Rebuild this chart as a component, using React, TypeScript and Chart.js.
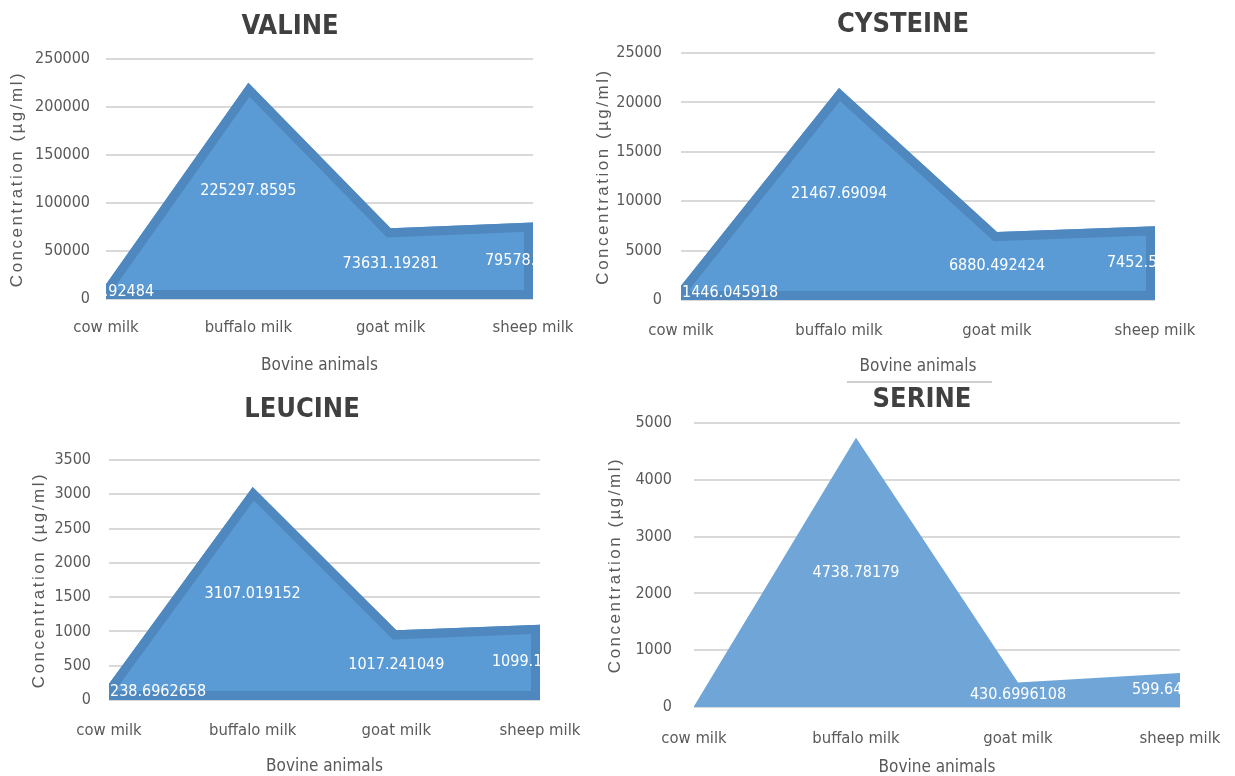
import React, { useEffect, useRef } from "react";
import { Chart, registerables } from "chart.js";

Chart.register(...registerables);

// ---------- data ----------
const categories = ["cow milk", "buffalo milk", "goat milk", "sheep milk"];

const valineValues = [15437.92484, 225297.8595, 73631.19281, 79578.24513];
const cysteineValues = [1446.045918, 21467.69094, 6880.492424, 7452.571846];
const leucineValues = [238.6962658, 3107.019152, 1017.241049, 1099.148261];
const serineValues = [15.2847316, 4738.78179, 430.6996108, 599.6473915];

const valineTicks = [0, 50000, 100000, 150000, 200000, 250000];
const cysteineTicks = [0, 5000, 10000, 15000, 20000, 25000];
const leucineTicks = [0, 500, 1000, 1500, 2000, 2500, 3000, 3500];
const serineTicks = [0, 1000, 2000, 3000, 4000, 5000];

const valineLabelShown = [true, true, true, true];
const cysteineLabelShown = [true, true, true, true];
const leucineLabelShown = [true, true, true, true];
const serineLabelShown = [false, true, true, true];

const xAxisTitle = "Bovine animals";
const yAxisTitle = "Concentration (µg/ml)";

// ---------- styling ----------
const NARROW = '"Liberation Sans Narrow", "Arial Narrow", "DejaVu Sans Condensed", sans-serif';
const REG = '"Liberation Sans", Arial, sans-serif';
const TEXT = "#595959";

type Panel = {
  title: string;
  values: number[];
  ticks: number[];
  shown: boolean[];
  cx: number; cy: number; W: number; H: number;
  l: number; t: number; r: number; b: number;
  titleX: number; titleY: number;
  yTitleX: number;
  xLabelY: number; xTitleY: number;
  yTickPad: number;
  fill: string;
  band: string | null;
  firstLeft: boolean;
};

const panels: Panel[] = [
  {
    title: "VALINE", values: valineValues, ticks: valineTicks, shown: valineLabelShown,
    cx: 0, cy: 0, W: 590, H: 388,
    l: 106, t: 59, r: 533, b: 299,
    titleX: 290, titleY: 27, yTitleX: 17, xLabelY: 328, xTitleY: 366, yTickPad: 16,
    fill: "#5b9bd5", band: "#4f87bf", firstLeft: false,
  },
  {
    title: "CYSTEINE", values: cysteineValues, ticks: cysteineTicks, shown: cysteineLabelShown,
    cx: 590, cy: 0, W: 645, H: 388,
    l: 681, t: 53, r: 1155, b: 300,
    titleX: 903, titleY: 25, yTitleX: 603, xLabelY: 331, xTitleY: 367, yTickPad: 19,
    fill: "#5b9bd5", band: "#4f87bf", firstLeft: true,
  },
  {
    title: "LEUCINE", values: leucineValues, ticks: leucineTicks, shown: leucineLabelShown,
    cx: 0, cy: 380, W: 590, H: 396,
    l: 109, t: 460, r: 540, b: 700,
    titleX: 302, titleY: 410, yTitleX: 39, xLabelY: 731, xTitleY: 767, yTickPad: 18,
    fill: "#5b9bd5", band: "#4f87bf", firstLeft: true,
  },
  {
    title: "SERINE", values: serineValues, ticks: serineTicks, shown: serineLabelShown,
    cx: 590, cy: 380, W: 645, H: 396,
    l: 694, t: 423, r: 1180, b: 707,
    titleX: 922, titleY: 400, yTitleX: 615, xLabelY: 739, xTitleY: 768, yTickPad: 22,
    fill: "#6fa5d7", band: null, firstLeft: true,
  },
];

const decorPlugin = {
  id: "decor",
  afterDatasetsDraw(chart: any, _args: any, opts: any) {
    const { ctx, chartArea } = chart;
    const meta = chart.getDatasetMeta(0);
    const pts = meta.data;
    const yS = chart.scales.y;
    const base = yS.getPixelForValue(0);
    if (opts.band) {
      ctx.save();
      ctx.beginPath();
      ctx.moveTo(pts[0].x, base);
      for (const pt of pts) ctx.lineTo(pt.x, pt.y);
      ctx.lineTo(pts[pts.length - 1].x, base);
      ctx.closePath();
      ctx.clip();
      ctx.lineWidth = 18;
      ctx.strokeStyle = opts.band;
      ctx.lineJoin = "miter";
      ctx.stroke();
      ctx.restore();
    }
    ctx.save();
    ctx.beginPath();
    ctx.rect(chartArea.left, chartArea.top, chartArea.right - chartArea.left, chartArea.bottom - chartArea.top + 2);
    ctx.clip();
    ctx.font = `16px ${NARROW}`;
    ctx.fillStyle = "#ffffff";
    ctx.textBaseline = "middle";
    const values: number[] = chart.data.datasets[0].data;
    values.forEach((v, i) => {
      if (!opts.shown[i]) return;
      const x = pts[i].x;
      const y = yS.getPixelForValue(v / 2);
      if (i === 0 && opts.firstLeft) {
        ctx.textAlign = "left";
        ctx.fillText(String(v), x + 1, y);
      } else {
        ctx.textAlign = "center";
        ctx.fillText(String(v), x, y);
      }
    });
    ctx.restore();
  },
  afterDraw(chart: any, _args: any, opts: any) {
    const { ctx, chartArea } = chart;
    ctx.save();
    ctx.fillStyle = "#404040";
    ctx.font = `bold 27px ${NARROW}`;
    ctx.textAlign = "center";
    ctx.textBaseline = "middle";
    ctx.fillText(opts.title, opts.titleX, opts.titleY);
    ctx.restore();

    ctx.save();
    ctx.translate(opts.yTitleX, (chartArea.top + chartArea.bottom) / 2);
    ctx.rotate(-Math.PI / 2);
    ctx.font = `17px ${REG}`;
    (ctx as any).letterSpacing = "2.5px";
    ctx.fillStyle = TEXT;
    ctx.textAlign = "center";
    ctx.textBaseline = "middle";
    ctx.fillText(opts.yTitle, 0, 0);
    ctx.restore();
  },
};

function makeConfig(p: Panel): any {
  const yW = p.l - p.cx;
  const xH = p.cy + p.H - p.b;
  const xTickFont = 16.5;
  const xTitleFont = 17;
  const xTickLH = (2 * (p.xLabelY - p.b)) / xTickFont;
  const xTitlePadB = p.cy + p.H - p.xTitleY - (xTitleFont * 1.2) / 2;
  return {
    type: "line",
    data: {
      labels: categories,
      datasets: [
        {
          data: p.values,
          fill: "origin",
          backgroundColor: p.fill,
          borderColor: "rgba(0,0,0,0)",
          borderWidth: 0,
          pointRadius: 0,
          pointHoverRadius: 0,
          tension: 0,
        },
      ],
    },
    options: {
      responsive: false,
      animation: false,
      devicePixelRatio: 1,
      events: [],
      layout: {
        padding: { left: 0, top: p.t - p.cy, right: p.cx + p.W - p.r, bottom: 0 },
      },
      plugins: {
        legend: { display: false },
        title: { display: false },
        tooltip: { enabled: false },
        decor: {
          band: p.band,
          shown: p.shown,
          firstLeft: p.firstLeft,
          title: p.title,
          titleX: p.titleX - p.cx,
          titleY: p.titleY - p.cy,
          yTitle: yAxisTitle,
          yTitleX: p.yTitleX - p.cx,
        },
      },
      scales: {
        x: {
          type: "category",
          offset: false,
          grid: { display: false, drawTicks: false },
          border: { display: false },
          ticks: {
            color: TEXT,
            font: { family: NARROW, size: xTickFont, lineHeight: xTickLH },
            padding: 0,
            maxRotation: 0,
            minRotation: 0,
            autoSkip: false,
          },
          title: {
            display: true,
            text: xAxisTitle,
            color: TEXT,
            font: { family: NARROW, size: xTitleFont },
            padding: { top: 0, bottom: xTitlePadB },
          },
          afterFit: (s: any) => {
            s.height = xH;
          },
        },
        y: {
          min: p.ticks[0],
          max: p.ticks[p.ticks.length - 1],
          grid: { color: "#d9d9d9", lineWidth: 2, drawTicks: false },
          border: { display: false },
          ticks: {
            stepSize: p.ticks[1] - p.ticks[0],
            color: TEXT,
            font: { family: NARROW, size: 16 },
            padding: p.yTickPad,
            callback: (v: any) => String(v),
          },
          afterFit: (s: any) => {
            s.width = yW;
          },
        },
      },
    },
    plugins: [decorPlugin],
  };
}

function PanelChart({ p }: { p: Panel }) {
  const ref = useRef<HTMLCanvasElement>(null);
  useEffect(() => {
    const chart = new Chart(ref.current as HTMLCanvasElement, makeConfig(p));
    return () => chart.destroy();
  }, []);
  return (
    <canvas
      ref={ref}
      width={p.W}
      height={p.H}
      style={{ position: "absolute", left: p.cx, top: p.cy, width: p.W, height: p.H }}
    />
  );
}

export default function App() {
  return (
    <div
      style={{
        position: "absolute",
        left: 0,
        top: 0,
        width: 1235,
        height: 776,
        overflow: "hidden",
        background: "#ffffff",
      }}
    >
      {panels.map((p) => (
        <PanelChart key={p.title} p={p} />
      ))}
      <div
        style={{
          position: "absolute",
          left: 847,
          top: 381,
          width: 145,
          height: 2,
          background: "#cfcfcf",
        }}
      />
    </div>
  );
}
